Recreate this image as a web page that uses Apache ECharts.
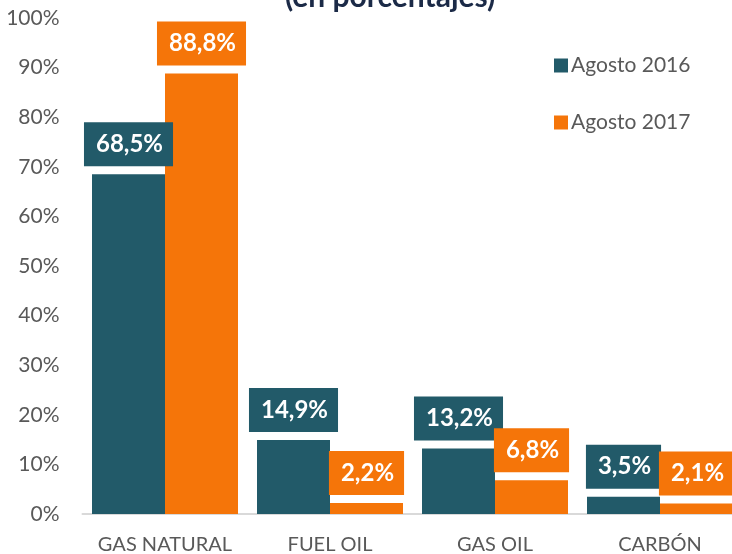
<!DOCTYPE html>
<html><head><meta charset="utf-8">
<script src="https://cdn.jsdelivr.net/npm/echarts@6/dist/echarts.min.js"></script>
<style>html,body{margin:0;padding:0;background:#fff}#c{width:732px;height:554px}</style>
</head><body><div id="c"></div>
<script>
var categories = ['GAS NATURAL', 'FUEL OIL', 'GAS OIL', 'CARBÓN'];
var seriesNames = ['Agosto 2016', 'Agosto 2017'];
var values2016 = [68.5, 14.9, 13.2, 3.5];
var values2017 = [88.8, 2.2, 6.8, 2.1];
var titleText = '(en porcentajes)';

var colors = ['#225A69', '#F57509'];
var FONT = 'Lato, "Open Sans", sans-serif';
function fmt(v){ return v.toFixed(1).replace('.', ',') + '%'; }
function mk(name, data, color){
  return {
    name: name, type: 'bar', data: data, barWidth: 73, barGap: '0%',
    itemStyle: { color: color },
    label: {
      show: true, position: 'top', distance: 8,
      formatter: function(p){ return fmt(p.value); },
      color: '#fff', fontFamily: FONT, fontWeight: 'bold', fontSize: 24, lineHeight: 24,
      backgroundColor: color, padding: [10, 10, 10, 12]
    }
  };
}
var chart = echarts.init(document.getElementById('c'), null, {renderer: 'canvas'});
chart.setOption({
  animation: false,
  textStyle: { fontFamily: FONT },
  grid: { left: 82.5, width: 660, top: 18, bottom: 40, containLabel: false, outerBoundsMode: 'none' },
  graphic: [{
    type: 'text', left: 285, top: -18,
    style: { text: titleText, font: 'bold 30px ' + FONT, fill: '#1B2A47' }
  }],
  legend: {
    orient: 'vertical', left: 549, top: 50, itemWidth: 14, itemHeight: 14, itemGap: 36,
    icon: 'rect',
    textStyle: { fontSize: 21, color: '#595959', fontFamily: FONT, padding: [0,0,0,-2] },
    data: seriesNames
  },
  xAxis: {
    type: 'category', data: categories,
    axisLine: { lineStyle: { color: '#D9D9D9', width: 2 } },
    axisTick: { show: false },
    axisLabel: { interval: 0, color: '#595959', fontSize: 20, margin: 21, fontFamily: FONT }
  },
  yAxis: {
    type: 'value', min: 0, max: 100, interval: 10,
    splitLine: { show: false }, axisLine: { show: false }, axisTick: { show: false },
    axisLabel: { formatter: '{value}%', color: '#595959', fontSize: 21, margin: 23, fontFamily: FONT }
  },
  series: [mk(seriesNames[0], values2016, colors[0]), mk(seriesNames[1], values2017, colors[1])]
});
</script></body></html>
